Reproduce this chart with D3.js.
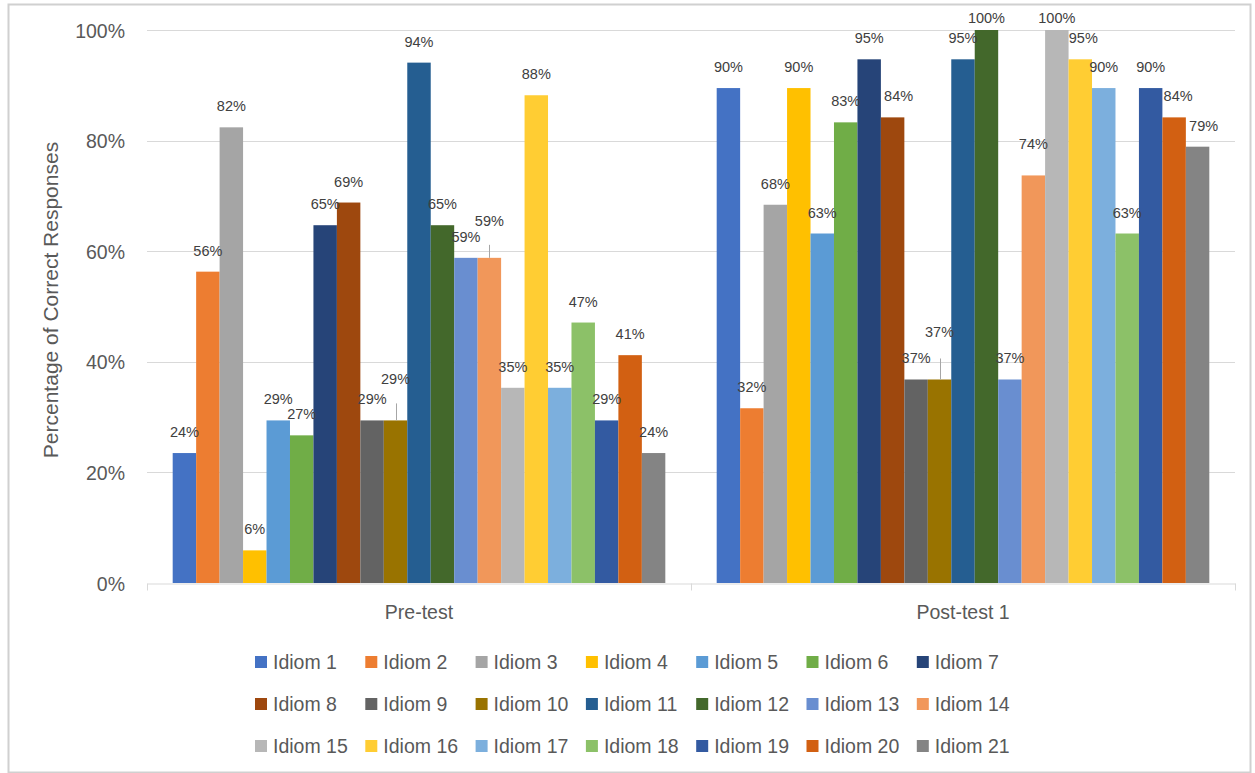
<!DOCTYPE html>
<html>
<head>
<meta charset="utf-8">
<script src="https://cdn.jsdelivr.net/npm/d3@7"></script>
<style>
  html, body { margin: 0; padding: 0; background: #fff; }
  svg { display: block; font-family: "Liberation Sans", Arial, sans-serif; }
</style>
</head>
<body>
<svg id="chart" width="1255" height="773"></svg>
<script>
// Test phases (clusters on the x axis)
const groups = ["Pre-test", "Post-test 1"];

// One series per idiom
const idioms = [
  "Idiom 1", "Idiom 2", "Idiom 3", "Idiom 4", "Idiom 5", "Idiom 6", "Idiom 7",
  "Idiom 8", "Idiom 9", "Idiom 10", "Idiom 11", "Idiom 12", "Idiom 13", "Idiom 14",
  "Idiom 15", "Idiom 16", "Idiom 17", "Idiom 18", "Idiom 19", "Idiom 20", "Idiom 21"
];

// Percentage of correct responses per idiom
const preTest = [
  23.5, 56.3, 82.4, 5.9, 29.4, 26.7, 64.7, 68.8, 29.4, 29.4, 94.1,
  64.7, 58.8, 58.8, 35.3, 88.2, 35.3, 47.1, 29.4, 41.2, 23.5
];
const postTest1 = [
  89.5, 31.6, 68.4, 89.5, 63.2, 83.3, 94.7, 84.2, 36.8, 36.8, 94.7,
  100, 36.8, 73.7, 100, 94.7, 89.5, 63.2, 89.5, 84.2, 78.9
];

// Y axis ticks
const yTicks = [0, 20, 40, 60, 80, 100];

// Series colours
const colors = [
  "#4472C4", "#ED7D31", "#A5A5A5", "#FFC000", "#5B9BD5", "#70AD47", "#264478",
  "#9E480E", "#636363", "#997300", "#255E91", "#43682B", "#698ED0", "#F1975A",
  "#B7B7B7", "#FFCD33", "#7CAFDD", "#8CC168", "#335AA1", "#D26012", "#848484"
];

const valuesByGroup = [preTest, postTest1];

// Manually placed data labels: [groupIndex, seriesIndex] -> offset / leader line
const labelAdjust = {
  "0-9":  { dx: 0, dy: -20, leader: 17 },
  "0-13": { dx: 0, dy: -16, leader: 13 },
  "1-7":  { dx: 6, dy: 0 },
  "1-9":  { dx: 0, dy: -26, leader: 21 },
  "1-13": { dx: 0, dy: -10 },
  "1-15": { dx: 3, dy: 0 },
  "1-19": { dx: 4, dy: 0 },
  "1-20": { dx: 6, dy: 0 }
};

const svg = d3.select("#chart");
const W = 1255, H = 773;
const plot = { left: 147, right: 1235, top: 30, bottom: 583 };

svg.append("rect").attr("width", W).attr("height", H).attr("fill", "#fff");
// Chart area border
svg.append("rect")
  .attr("x", 8.5).attr("y", 4.5).attr("width", 1242).attr("height", 768)
  .attr("fill", "none").attr("stroke", "#d0d0d0").attr("stroke-width", 2);

const x0 = d3.scaleBand().domain(groups).range([plot.left, plot.right]).padding(0);
const x1 = d3.scaleBand().domain(idioms).range([0, x0.bandwidth()])
  .paddingInner(0).paddingOuter(1.095);
const y = d3.scaleLinear().domain([0, 100]).range([plot.bottom, plot.top]);

// Gridlines
svg.append("g")
  .selectAll("line")
  .data(yTicks.filter(t => t > 0))
  .join("line")
  .attr("x1", plot.left).attr("x2", plot.right)
  .attr("y1", d => Math.round(y(d)) + 0.5).attr("y2", d => Math.round(y(d)) + 0.5)
  .attr("stroke", "#d9d9d9").attr("stroke-width", 1);

// Y axis labels
const yAxis = svg.append("g")
  .attr("transform", `translate(${plot.left},0)`)
  .call(d3.axisLeft(y).tickValues(yTicks).tickFormat(d => d + "%").tickSize(0).tickPadding(22));
yAxis.select(".domain").remove();
yAxis.selectAll("text")
  .attr("font-size", 19.5)
  .attr("fill", "#595959")
  .attr("font-family", "Liberation Sans, Arial, sans-serif")
  .attr("dy", "0.36em");

// X axis line with category boundary ticks
const xAxis = svg.append("g")
  .attr("transform", `translate(0,${plot.bottom + 0.5})`)
  .call(d3.axisBottom(x0).tickSize(0).tickPadding(22));
xAxis.select(".domain").attr("stroke", "#d9d9d9");
xAxis.selectAll("text")
  .attr("font-size", 19.5)
  .attr("fill", "#595959")
  .attr("font-family", "Liberation Sans, Arial, sans-serif");
const bounds = groups.map(g => x0(g)).concat([x0(groups[groups.length - 1]) + x0.bandwidth()]);
xAxis.selectAll("line.bound")
  .data(bounds)
  .join("line")
  .attr("class", "bound")
  .attr("x1", d => Math.round(d) + 0.5).attr("x2", d => Math.round(d) + 0.5)
  .attr("y1", 0).attr("y2", 7)
  .attr("stroke", "#d9d9d9");

// Bars
const rows = [];
groups.forEach((g, gi) => {
  idioms.forEach((name, si) => {
    rows.push({ group: g, gi, name, si, value: valuesByGroup[gi][si] });
  });
});

svg.append("g")
  .selectAll("rect")
  .data(rows)
  .join("rect")
  .attr("x", d => x0(d.group) + x1(d.name))
  .attr("y", d => y(d.value))
  .attr("width", x1.bandwidth())
  .attr("height", d => y(0) - y(d.value))
  .attr("fill", d => colors[d.si]);

// Data labels
const labels = svg.append("g");
rows.forEach(d => {
  const adj = labelAdjust[`${d.gi}-${d.si}`] || { dx: 0, dy: 0 };
  const cx = x0(d.group) + x1(d.name) + x1.bandwidth() / 2;
  const top = y(d.value);
  let baseline = Math.max(top - 16, 23) + adj.dy;
  labels.append("text")
    .attr("x", cx + adj.dx)
    .attr("y", baseline)
    .attr("text-anchor", "middle")
    .attr("font-size", 14.5)
    .attr("fill", "#404040")
    .text(Math.round(d.value) + "%");
  if (adj.leader) {
    labels.append("line")
      .attr("x1", Math.round(cx) + 0.5).attr("x2", Math.round(cx) + 0.5)
      .attr("y1", top - adj.leader).attr("y2", top)
      .attr("stroke", "#a6a6a6").attr("stroke-width", 1);
  }
});

// Y axis title
svg.append("text")
  .attr("transform", "translate(58,300) rotate(-90)")
  .attr("text-anchor", "middle")
  .attr("font-size", 21)
  .attr("fill", "#595959")
  .text("Percentage of Correct Responses");

// Legend: 7 columns x 3 rows
const legend = svg.append("g");
const legCols = 7, colStep = 110.3, rowStep = 42, legX = 255, legY = 662;
idioms.forEach((name, i) => {
  const col = i % legCols, row = Math.floor(i / legCols);
  const lx = legX + col * colStep, ly = legY + row * rowStep;
  legend.append("rect")
    .attr("x", lx).attr("y", ly - 6)
    .attr("width", 12).attr("height", 12)
    .attr("fill", colors[i]);
  legend.append("text")
    .attr("x", lx + 18).attr("y", ly + 7)
    .attr("font-size", 19.5)
    .attr("fill", "#595959")
    .text(name);
});
</script>
</body>
</html>
